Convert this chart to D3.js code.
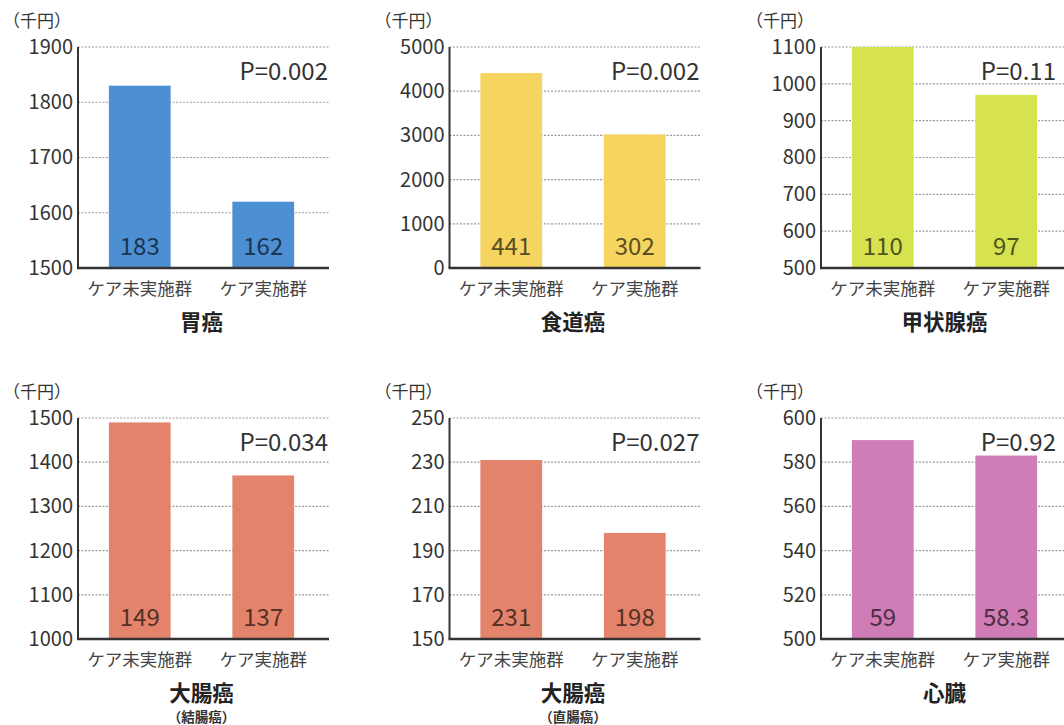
<!DOCTYPE html>
<html>
  <head>
    <meta charset="utf-8">
    <script src="https://cdn.jsdelivr.net/npm/d3@7"></script>
    <title>ケア実施群と未実施群の医療費</title>
    <style>
      body { margin: 0; background: #fff; }
      text { font-family: "Noto Sans CJK JP", "Noto Sans", sans-serif; }
    </style>
  </head>
  <body>
  <script>
    // chart data, one entry per panel
    var titles = ["胃癌", "食道癌", "甲状腺癌", "大腸癌", "大腸癌", "心臓"];
    var subtitles = ["", "", "", "（結腸癌）", "（直腸癌）", ""];
    var groups = ["ケア未実施群", "ケア実施群"];
    var valuesNoCare = [1830, 4410, 1100, 1490, 231, 590];
    var valuesCare = [1620, 3020, 970, 1370, 198, 583];
    var countNoCare = ["183", "441", "110", "149", "231", "59"];
    var countCare = ["162", "302", "97", "137", "198", "58.3"];
    var pValues = ["P=0.002", "P=0.002", "P=0.11", "P=0.034", "P=0.027", "P=0.92"];
    var yMin = [1500, 0, 500, 1000, 150, 500];
    var yMax = [1900, 5000, 1100, 1500, 250, 600];
    var yStep = [100, 1000, 100, 100, 20, 20];
    var colors = ["#4d8fd3", "#f5d55f", "#d6e250", "#e4836b", "#e4836b", "#d07cb6"];
    var unitLabel = "（千円）";

    var width = 1064, height = 725;
    var plotW = 247, plotH = 221;

    var svg = d3.select("body").append("svg")
              .attr("width", width)
              .attr("height", height);

    for (var i = 0; i < titles.length; i++) {
      drawPanel(i);
    }

    function drawPanel(i){
      var col = i % 3, row = Math.floor(i / 3);
      var left = 78 + col * 371.5;
      var top = 47 + row * 371;

      var g = svg.append("g").attr("transform", "translate(" + left + "," + top + ")");

      var x = d3.scaleBand().domain(groups).range([0, plotW]).paddingInner(0.5).paddingOuter(0.25);
      var y = d3.scaleLinear().domain([yMin[i], yMax[i]]).range([plotH, 0]);
      var ticks = d3.range(yMin[i], yMax[i] + yStep[i] / 2, yStep[i]);

      // dotted gridlines
      g.selectAll(".grid")
        .data(ticks.slice(1))
        .enter().append("line")
          .attr("x1", 0)
          .attr("x2", plotW + 4)
          .attr("y1", function(d){ return y(d); })
          .attr("y2", function(d){ return y(d); })
          .attr("stroke", "#9a9a9a")
          .attr("stroke-width", 1.2)
          .attr("stroke-dasharray", "2,1.5");

      var data = [
        {"group" : groups[0], "value" : valuesNoCare[i], "n" : countNoCare[i]},
        {"group" : groups[1], "value" : valuesCare[i], "n" : countCare[i]}
      ];

      g.selectAll(".bar")
        .data(data)
        .enter().append("rect")
          .attr("x", function(d){ return x(d.group); })
          .attr("width", x.bandwidth())
          .attr("y", function(d){ return y(d.value); })
          .attr("height", function(d){ return plotH - y(d.value); })
          .style("fill", colors[i]);

      var labelColor = d3.color(colors[i]).darker(2.8).formatHex();
      g.selectAll(".n")
        .data(data)
        .enter().append("text")
          .attr("x", function(d){ return x(d.group) + x.bandwidth() / 2; })
          .attr("y", plotH - 13)
          .attr("text-anchor", "middle")
          .attr("font-size", 24)
          .attr("fill", labelColor)
          .text(function(d){ return d.n; });

      // y axis
      var yAxis = g.append("g").call(d3.axisLeft(y).tickValues(ticks).tickFormat(d3.format("d")).tickSize(0).tickPadding(5));
      yAxis.select(".domain").remove();
      yAxis.selectAll("text").attr("font-size", 20).attr("fill", "#333");

      g.append("line").attr("x1", 0).attr("x2", 0).attr("y1", 0).attr("y2", plotH)
        .attr("stroke", "#333").attr("stroke-width", 2);
      g.append("line").attr("x1", -1).attr("x2", plotW + 4).attr("y1", plotH).attr("y2", plotH)
        .attr("stroke", "#333").attr("stroke-width", 2.5);

      // group labels under bars
      g.selectAll(".cat")
        .data(groups)
        .enter().append("text")
          .attr("x", function(d){ return x(d) + x.bandwidth() / 2; })
          .attr("y", plotH + 27)
          .attr("text-anchor", "middle")
          .attr("font-size", 17.5)
          .attr("fill", "#444")
          .text(function(d){ return d; });

      g.append("text")
        .attr("x", Math.min(plotW + 3, width - 8 - left))
        .attr("y", 33)
        .attr("text-anchor", "end")
        .attr("font-size", 24)
        .attr("fill", "#333")
        .text(pValues[i]);

      g.append("text")
        .attr("x", -75)
        .attr("y", -20)
        .attr("font-size", 17)
        .attr("fill", "#333")
        .text(unitLabel);

      g.append("text")
        .attr("x", plotW / 2)
        .attr("y", plotH + 62)
        .attr("text-anchor", "middle")
        .attr("font-size", 21.5)
        .attr("font-weight", "bold")
        .attr("fill", "#222")
        .text(titles[i]);

      if (subtitles[i] != "") {
        g.append("text")
          .attr("x", plotW / 2)
          .attr("y", plotH + 83)
          .attr("text-anchor", "middle")
          .attr("font-size", 13.5)
          .attr("font-weight", "bold")
          .attr("fill", "#333")
          .text(subtitles[i]);
      }
    }
  </script>
</body>
</html>
